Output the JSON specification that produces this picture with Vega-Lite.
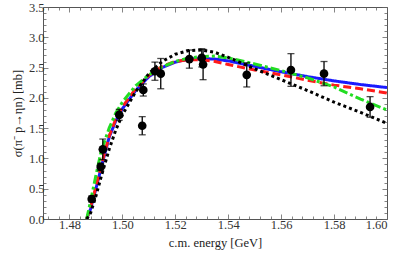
{
  "$schema": "https://vega.github.io/schema/vega-lite/v6.json",
  "width": 344,
  "height": 212,
  "autosize": {"type": "none"},
  "padding": {"left": 43, "top": 7, "right": 12, "bottom": 41},
  "background": "white",
  "config": {
    "view": {"stroke": "#555", "strokeWidth": 1},
    "axis": {"grid": false, "domain": false, "tickColor": "#666", "tickWidth": 0.8,
      "labelFont": "Liberation Serif", "titleFont": "Liberation Serif", "labelFontSize": 12.5, "titleFontSize": 12.5,
      "labelColor": "#333", "titleColor": "#222", "titleFontWeight": "normal"}
  },
  "datasets": {
    "curves": [
      {"m": "blue", "x": 1.4865, "y": 0}, {"m": "blue", "x": 1.488, "y": 0.17}, {"m": "blue", "x": 1.49, "y": 0.5}, {"m": "blue", "x": 1.492, "y": 0.85}, {"m": "blue", "x": 1.495, "y": 1.35}, {"m": "blue", "x": 1.4975, "y": 1.62}, {"m": "blue", "x": 1.5, "y": 1.82}, {"m": "blue", "x": 1.505, "y": 2.12}, {"m": "blue", "x": 1.51, "y": 2.35}, {"m": "blue", "x": 1.515, "y": 2.5}, {"m": "blue", "x": 1.52, "y": 2.59}, {"m": "blue", "x": 1.525, "y": 2.64}, {"m": "blue", "x": 1.53, "y": 2.65}, {"m": "blue", "x": 1.535, "y": 2.64}, {"m": "blue", "x": 1.54, "y": 2.61}, {"m": "blue", "x": 1.55, "y": 2.52}, {"m": "blue", "x": 1.56, "y": 2.43}, {"m": "blue", "x": 1.57, "y": 2.35}, {"m": "blue", "x": 1.58, "y": 2.28}, {"m": "blue", "x": 1.59, "y": 2.22}, {"m": "blue", "x": 1.6, "y": 2.17},
      {"m": "red", "x": 1.4865, "y": 0}, {"m": "red", "x": 1.488, "y": 0.2}, {"m": "red", "x": 1.49, "y": 0.53}, {"m": "red", "x": 1.492, "y": 0.88}, {"m": "red", "x": 1.495, "y": 1.37}, {"m": "red", "x": 1.4975, "y": 1.65}, {"m": "red", "x": 1.5, "y": 1.85}, {"m": "red", "x": 1.505, "y": 2.15}, {"m": "red", "x": 1.51, "y": 2.37}, {"m": "red", "x": 1.515, "y": 2.52}, {"m": "red", "x": 1.52, "y": 2.6}, {"m": "red", "x": 1.525, "y": 2.63}, {"m": "red", "x": 1.53, "y": 2.63}, {"m": "red", "x": 1.535, "y": 2.6}, {"m": "red", "x": 1.54, "y": 2.55}, {"m": "red", "x": 1.55, "y": 2.46}, {"m": "red", "x": 1.56, "y": 2.38}, {"m": "red", "x": 1.57, "y": 2.29}, {"m": "red", "x": 1.58, "y": 2.21}, {"m": "red", "x": 1.59, "y": 2.15}, {"m": "red", "x": 1.6, "y": 2.08},
      {"m": "green", "x": 1.4865, "y": 0}, {"m": "green", "x": 1.488, "y": 0.3}, {"m": "green", "x": 1.49, "y": 0.72}, {"m": "green", "x": 1.492, "y": 1.12}, {"m": "green", "x": 1.495, "y": 1.5}, {"m": "green", "x": 1.4975, "y": 1.75}, {"m": "green", "x": 1.5, "y": 1.93}, {"m": "green", "x": 1.505, "y": 2.2}, {"m": "green", "x": 1.51, "y": 2.38}, {"m": "green", "x": 1.515, "y": 2.51}, {"m": "green", "x": 1.52, "y": 2.6}, {"m": "green", "x": 1.525, "y": 2.66}, {"m": "green", "x": 1.53, "y": 2.68}, {"m": "green", "x": 1.535, "y": 2.69}, {"m": "green", "x": 1.54, "y": 2.66}, {"m": "green", "x": 1.55, "y": 2.56}, {"m": "green", "x": 1.56, "y": 2.45}, {"m": "green", "x": 1.57, "y": 2.33}, {"m": "green", "x": 1.58, "y": 2.18}, {"m": "green", "x": 1.59, "y": 1.98}, {"m": "green", "x": 1.6, "y": 1.8},
      {"m": "black", "x": 1.4865, "y": 0}, {"m": "black", "x": 1.488, "y": 0.1}, {"m": "black", "x": 1.49, "y": 0.38}, {"m": "black", "x": 1.492, "y": 0.7}, {"m": "black", "x": 1.495, "y": 1.15}, {"m": "black", "x": 1.4975, "y": 1.47}, {"m": "black", "x": 1.5, "y": 1.72}, {"m": "black", "x": 1.505, "y": 2.1}, {"m": "black", "x": 1.51, "y": 2.4}, {"m": "black", "x": 1.515, "y": 2.6}, {"m": "black", "x": 1.52, "y": 2.72}, {"m": "black", "x": 1.525, "y": 2.78}, {"m": "black", "x": 1.53, "y": 2.79}, {"m": "black", "x": 1.535, "y": 2.75}, {"m": "black", "x": 1.54, "y": 2.67}, {"m": "black", "x": 1.55, "y": 2.48}, {"m": "black", "x": 1.56, "y": 2.3}, {"m": "black", "x": 1.57, "y": 2.12}, {"m": "black", "x": 1.58, "y": 1.93}, {"m": "black", "x": 1.59, "y": 1.76}, {"m": "black", "x": 1.6, "y": 1.58}
    ],
    "pts": [
      {"x": 1.4884, "y": 0.33, "lo": 0.28, "hi": 0.38},
      {"x": 1.4918, "y": 0.86, "lo": 0.8, "hi": 0.92},
      {"x": 1.4926, "y": 1.15, "lo": 0.98, "hi": 1.32},
      {"x": 1.4988, "y": 1.72, "lo": 1.63, "hi": 1.81},
      {"x": 1.5075, "y": 1.54, "lo": 1.39, "hi": 1.69},
      {"x": 1.5079, "y": 2.13, "lo": 2.03, "hi": 2.23},
      {"x": 1.5123, "y": 2.44, "lo": 2.29, "hi": 2.59},
      {"x": 1.5145, "y": 2.4, "lo": 2.15, "hi": 2.65},
      {"x": 1.5253, "y": 2.64, "lo": 2.49, "hi": 2.79},
      {"x": 1.53, "y": 2.66, "lo": 2.51, "hi": 2.81},
      {"x": 1.5305, "y": 2.55, "lo": 2.3, "hi": 2.8},
      {"x": 1.547, "y": 2.38, "lo": 2.18, "hi": 2.58},
      {"x": 1.5637, "y": 2.46, "lo": 2.19, "hi": 2.73},
      {"x": 1.5762, "y": 2.4, "lo": 2.2, "hi": 2.6},
      {"x": 1.5936, "y": 1.85, "lo": 1.68, "hi": 2.02}
    ]
  },
  "resolve": {"axis": {"x": "independent", "y": "independent"}},
  "layer": [
    {
      "data": {"name": "curves"},
      "mark": {"type": "line", "strokeWidth": 3, "clip": true},
      "encoding": {
        "x": {"field": "x", "type": "quantitative", "scale": {"domain": [1.47, 1.6], "nice": false, "zero": false},
          "axis": {"orient": "bottom", "title": "c.m. energy [GeV]", "titlePadding": 6, "labelPadding": 4,
            "values": [1.472,1.476,1.48,1.484,1.488,1.492,1.496,1.5,1.504,1.508,1.512,1.516,1.52,1.524,1.528,1.532,1.536,1.54,1.544,1.548,1.552,1.556,1.56,1.564,1.568,1.572,1.576,1.58,1.584,1.588,1.592,1.596,1.6],
            "labelExpr": "abs(datum.value*50 - round(datum.value*50)) < 0.001 ? format(datum.value, '.2f') : ''",
            "tickSize": {"condition": {"test": "abs(datum.value*50 - round(datum.value*50)) < 0.001", "value": -5}, "value": -3}}},
        "y": {"field": "y", "type": "quantitative", "scale": {"domain": [0, 3.5], "nice": false},
          "axis": {"orient": "left", "title": "σ(π⁻ p→ηn) [mb]", "titlePadding": 4, "labelPadding": 4,
            "values": [0,0.1,0.2,0.3,0.4,0.5,0.6,0.7,0.8,0.9,1,1.1,1.2,1.3,1.4,1.5,1.6,1.7,1.8,1.9,2,2.1,2.2,2.3,2.4,2.5,2.6,2.7,2.8,2.9,3,3.1,3.2,3.3,3.4,3.5],
            "labelExpr": "abs(datum.value*2 - round(datum.value*2)) < 0.001 ? format(datum.value, '.1f') : ''",
            "tickSize": {"condition": {"test": "abs(datum.value*2 - round(datum.value*2)) < 0.001", "value": -5}, "value": -3}}},
        "color": {"field": "m", "type": "nominal", "scale": {"domain": ["blue", "red", "green", "black"], "range": ["#1a1aff", "#ff1a1a", "#22dd22", "#000000"]}, "legend": null},
        "strokeDash": {"field": "m", "type": "nominal", "scale": {"domain": ["blue", "red", "green", "black"], "range": [[1, 0], [8, 4], [9, 3, 3, 3], [3, 3]]}, "legend": null},
        "order": {"field": "x", "type": "quantitative"}
      }
    },
    {
      "data": {"name": "pts"},
      "mark": {"type": "rule", "strokeWidth": 1.3, "color": "black"},
      "encoding": {
        "x": {"field": "x", "type": "quantitative",
          "axis": {"orient": "top", "title": null, "labels": false,
            "values": [1.472,1.476,1.48,1.484,1.488,1.492,1.496,1.5,1.504,1.508,1.512,1.516,1.52,1.524,1.528,1.532,1.536,1.54,1.544,1.548,1.552,1.556,1.56,1.564,1.568,1.572,1.576,1.58,1.584,1.588,1.592,1.596,1.6],
            "tickSize": {"condition": {"test": "abs(datum.value*50 - round(datum.value*50)) < 0.001", "value": -5}, "value": -3}}},
        "y": {"field": "lo", "type": "quantitative",
          "axis": {"orient": "right", "title": null, "labels": false,
            "values": [0,0.1,0.2,0.3,0.4,0.5,0.6,0.7,0.8,0.9,1,1.1,1.2,1.3,1.4,1.5,1.6,1.7,1.8,1.9,2,2.1,2.2,2.3,2.4,2.5,2.6,2.7,2.8,2.9,3,3.1,3.2,3.3,3.4,3.5],
            "tickSize": {"condition": {"test": "abs(datum.value*2 - round(datum.value*2)) < 0.001", "value": -5}, "value": -3}}},
        "y2": {"field": "hi"}
      }
    },
    {
      "data": {"name": "pts"},
      "mark": {"type": "tick", "orient": "horizontal", "thickness": 1.3, "size": 7, "color": "black"},
      "encoding": {
        "x": {"field": "x", "type": "quantitative", "axis": null},
        "y": {"field": "lo", "type": "quantitative", "axis": null}
      }
    },
    {
      "data": {"name": "pts"},
      "mark": {"type": "tick", "orient": "horizontal", "thickness": 1.3, "size": 7, "color": "black"},
      "encoding": {
        "x": {"field": "x", "type": "quantitative", "axis": null},
        "y": {"field": "hi", "type": "quantitative", "axis": null}
      }
    },
    {
      "data": {"name": "pts"},
      "mark": {"type": "circle", "size": 75, "color": "black", "opacity": 1},
      "encoding": {
        "x": {"field": "x", "type": "quantitative", "axis": null},
        "y": {"field": "y", "type": "quantitative", "axis": null}
      }
    }
  ]
}
